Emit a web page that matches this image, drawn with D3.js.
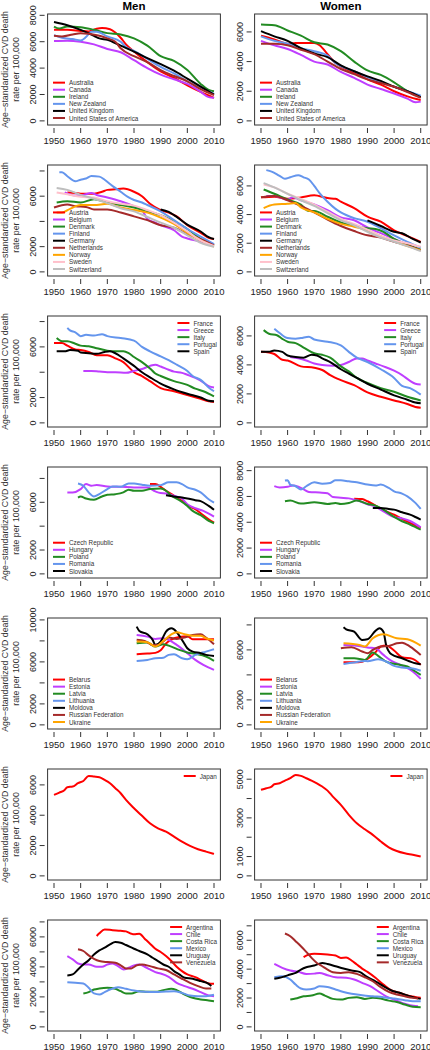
<!DOCTYPE html>
<html><head><meta charset="utf-8">
<script src="https://cdn.jsdelivr.net/npm/d3@7"></script>
<style>
html,body{margin:0;padding:0;background:#fff;}
svg text{font-family:"Liberation Sans",Arial,Helvetica,sans-serif;}
</style></head>
<body>
<script>
// ---------- DATA ----------
const columnTitles = ["Men", "Women"];
const yTitle = ["Age\u2212standardized CVD death", "rate per 100,000"];
const xTicks = [1950, 1960, 1970, 1980, 1990, 2000, 2010];

const countries1 = ["Australia", "Canada", "Ireland", "New Zealand", "United Kingdom", "United States of America"];
const colors1 = ["#FF0000", "#BF3EFF", "#228B22", "#6495ED", "#000000", "#A52A2A"];
const men1 = [
  [[1950,6900],[1955,6900],[1960,6820],[1963,6780],[1966,6980],[1968,7030],[1971,6950],[1973,6700],[1975,6300],[1977,5800],[1980,5250],[1985,4450],[1990,3750],[1995,3250],[2000,2700],[2005,2200],[2010,1750]],
  [[1950,6050],[1955,6080],[1960,6000],[1965,5800],[1970,5450],[1975,5200],[1980,4600],[1985,4000],[1990,3500],[1995,3150],[2000,2800],[2005,2200],[2008,1800],[2010,1750]],
  [[1950,7150],[1952,7000],[1955,7150],[1960,7100],[1965,6900],[1970,6650],[1975,6550],[1980,6250],[1985,5700],[1990,4900],[1995,4550],[2000,3850],[2005,2800],[2008,2350],[2010,2250]],
  [[1950,6500],[1953,6300],[1957,6200],[1960,6100],[1962,6350],[1964,6750],[1966,6750],[1970,6400],[1975,6000],[1977,5600],[1980,5300],[1985,4700],[1990,4100],[1995,3600],[2000,3000],[2005,2500],[2010,2050]],
  [[1950,7500],[1955,7250],[1960,6900],[1965,6450],[1967,6250],[1970,6150],[1975,5700],[1980,5250],[1985,4750],[1990,4300],[1995,3800],[2000,3200],[2005,2600],[2010,2000]],
  [[1950,6450],[1953,6400],[1957,6550],[1960,6650],[1963,6600],[1967,6450],[1970,6250],[1973,6000],[1975,5500],[1980,4900],[1985,4450],[1990,3850],[1995,3400],[2000,3000],[2005,2400],[2010,1950]]
];
const women1 = [
  [[1950,5750],[1955,5500],[1960,5200],[1963,5250],[1967,5250],[1970,5250],[1972,5100],[1975,4500],[1978,3900],[1980,3650],[1985,3250],[1990,2800],[1995,2450],[2000,2000],[2005,1650],[2010,1400]],
  [[1950,5400],[1955,5100],[1960,4850],[1965,4450],[1970,4000],[1975,3800],[1980,3300],[1985,2900],[1990,2450],[1995,2150],[2000,1850],[2005,1500],[2008,1250],[2010,1300]],
  [[1950,6500],[1955,6450],[1960,6100],[1965,5750],[1970,5300],[1975,5150],[1980,4700],[1985,4000],[1990,3400],[1995,3100],[2000,2600],[2005,2000],[2010,1600]],
  [[1950,5700],[1955,5400],[1960,5200],[1965,4900],[1970,4700],[1975,4400],[1978,3900],[1980,3700],[1985,3350],[1990,2950],[1995,2600],[2000,2300],[2005,2000],[2010,1700]],
  [[1950,6050],[1955,5700],[1960,5400],[1965,4900],[1970,4550],[1975,4300],[1980,3750],[1985,3350],[1990,3000],[1995,2700],[2000,2300],[2005,2000],[2010,1600]],
  [[1950,5200],[1955,5200],[1960,5100],[1965,4800],[1970,4500],[1975,4000],[1980,3500],[1985,3150],[1990,2800],[1995,2550],[2000,2300],[2005,1950],[2010,1550]]
];

const countries2 = ["Austria", "Belgium", "Denmark", "Finland", "Germany", "Netherlands", "Norway", "Sweden", "Switzerland"];
const colors2 = ["#FF0000", "#BF3EFF", "#228B22", "#6495ED", "#000000", "#A52A2A", "#FFA500", "#FFC0CB", "#BEBEBE"];
const men2 = [
  [[1955,6300],[1958,6250],[1960,6200],[1965,6200],[1968,6350],[1970,6500],[1973,6550],[1976,6600],[1980,6350],[1983,6000],[1986,5400],[1990,4900],[1993,4700],[1996,4400],[2000,3700],[2005,3100],[2008,2700],[2010,2600]],
  [[1954,6300],[1958,6050],[1961,6100],[1964,6250],[1966,6100],[1970,5900],[1975,5600],[1980,5200],[1983,4900],[1985,4200],[1988,3900],[1990,3700],[1995,3300],[1998,2800],[2000,2650],[2005,2400],[2010,2150]],
  [[1951,5500],[1955,5600],[1960,5500],[1965,5750],[1970,5500],[1975,5300],[1980,5100],[1985,4800],[1990,4500],[1995,4000],[2000,3400],[2005,2600],[2010,2100]],
  [[1952,7900],[1953,7900],[1955,7580],[1958,7180],[1960,7310],[1962,7400],[1964,7600],[1967,7550],[1969,7300],[1972,6800],[1975,6350],[1978,5900],[1980,5700],[1983,5500],[1985,5300],[1990,4800],[1995,4100],[2000,3400],[2005,2800],[2010,2200]],
  [[1990,4950],[1993,4750],[1995,4500],[2000,3750],[2005,3200],[2008,2750],[2010,2600]],
  [[1950,5100],[1955,5350],[1958,5200],[1962,5150],[1965,4950],[1970,4950],[1975,4700],[1980,4400],[1985,4100],[1990,3700],[1995,3500],[2000,3000],[2005,2600],[2010,2100]],
  [[1951,4700],[1953,4700],[1956,5000],[1960,5300],[1965,5300],[1970,5400],[1975,5100],[1980,4900],[1985,4700],[1990,4300],[1995,3800],[2000,3100],[2005,2500],[2010,2000]],
  [[1951,6300],[1955,6150],[1960,5950],[1965,5900],[1970,5600],[1975,5400],[1980,5250],[1985,4900],[1990,4500],[1995,3900],[2000,3200],[2005,2500],[2010,2050]],
  [[1951,6650],[1955,6500],[1960,6100],[1965,5800],[1970,5450],[1975,5050],[1980,4800],[1985,4350],[1990,3900],[1995,3500],[2000,2900],[2005,2300],[2010,2000]]
];
const women2 = [
  [[1950,5200],[1955,5250],[1960,5100],[1965,5200],[1970,5350],[1975,5150],[1978,5100],[1980,4900],[1985,4450],[1990,3850],[1995,3500],[2000,2900],[2005,2500],[2010,2100]],
  [[1952,5300],[1955,5300],[1960,5050],[1962,5200],[1965,5000],[1970,4700],[1975,4300],[1980,3800],[1985,3600],[1990,3100],[1995,2700],[2000,2300],[2005,1900],[2010,1500]],
  [[1951,5750],[1955,5450],[1960,5050],[1965,4700],[1968,4250],[1970,4250],[1975,3850],[1980,3450],[1985,3250],[1990,3050],[1993,3000],[1996,2800],[2000,2300],[2005,1900],[2010,1550]],
  [[1952,7100],[1954,7000],[1957,6700],[1959,6500],[1961,6600],[1964,6750],[1966,6600],[1968,6450],[1970,6000],[1972,5500],[1975,4900],[1978,4400],[1980,4150],[1985,3750],[1990,3500],[1995,3050],[2000,2550],[2005,2100],[2010,1700]],
  [[1990,3600],[1995,3200],[2000,2800],[2003,2700],[2007,2300],[2010,2050]],
  [[1950,5200],[1955,5300],[1960,5000],[1965,4600],[1970,4150],[1975,3650],[1980,3200],[1985,2850],[1990,2550],[1995,2400],[2000,2100],[2005,1850],[2010,1500]],
  [[1951,4450],[1955,4700],[1960,4750],[1963,4800],[1965,4500],[1970,4150],[1975,3700],[1980,3350],[1985,3150],[1990,2900],[1995,2500],[2000,2150],[2005,1800],[2010,1500]],
  [[1951,6100],[1955,5900],[1960,5450],[1965,5100],[1970,4700],[1975,4200],[1980,3700],[1985,3350],[1990,2950],[1995,2500],[2000,2200],[2005,2000],[2010,1750]],
  [[1951,6200],[1955,5900],[1960,5450],[1965,5000],[1970,4600],[1975,4100],[1980,3600],[1985,3250],[1990,2800],[1995,2400],[2000,2100],[2005,1800],[2010,1450]]
];

const countries3 = ["France", "Greece", "Italy", "Portugal", "Spain"];
const colors3 = ["#FF0000", "#BF3EFF", "#228B22", "#6495ED", "#000000"];
const men3 = [
  [[1950,6300],[1953,6300],[1955,6100],[1958,5800],[1960,5750],[1963,5600],[1966,5350],[1970,5350],[1973,5100],[1976,4800],[1980,4000],[1983,3700],[1986,3300],[1990,2750],[1995,2500],[2000,2200],[2005,1900],[2008,1700],[2010,1650]],
  [[1961,4100],[1964,4100],[1967,4050],[1970,4000],[1973,4000],[1977,3950],[1980,4100],[1983,4250],[1986,4500],[1988,4600],[1990,4450],[1993,4200],[1995,4050],[1998,3950],[2000,3800],[2003,3550],[2006,3200],[2008,2900],[2010,2800]],
  [[1951,6700],[1953,6450],[1955,6450],[1958,6250],[1960,6100],[1963,6050],[1966,5900],[1970,5700],[1973,5650],[1976,5650],[1978,5500],[1980,5200],[1983,4800],[1986,4300],[1988,3900],[1990,3700],[1995,3300],[2000,3000],[2003,2700],[2006,2500],[2010,2100]],
  [[1955,7500],[1956,7300],[1958,7150],[1960,6850],[1962,6950],[1965,6900],[1968,7000],[1970,6850],[1975,6700],[1980,6500],[1983,6000],[1986,5650],[1990,5250],[1993,4950],[1996,4600],[2000,4100],[2002,3700],[2005,3400],[2008,2800],[2010,2500]],
  [[1951,5650],[1954,5650],[1956,5750],[1959,5700],[1960,5550],[1963,5500],[1966,5450],[1969,5600],[1971,5650],[1973,5500],[1976,5100],[1980,4500],[1983,4000],[1986,3600],[1990,3100],[1995,2650],[2000,2300],[2005,2000],[2008,1750],[2010,1700]]
];
const women3 = [
  [[1950,4900],[1953,4850],[1955,4750],[1958,4350],[1960,4300],[1965,3900],[1970,3800],[1973,3650],[1976,3300],[1980,2950],[1985,2600],[1990,2100],[1995,1800],[2000,1550],[2005,1300],[2008,1100],[2010,1050]],
  [[1961,4550],[1964,4450],[1967,4300],[1970,4100],[1973,4000],[1977,3950],[1980,4000],[1983,4200],[1986,4450],[1988,4450],[1990,4300],[1993,4100],[1996,3900],[2000,3600],[2003,3300],[2006,2900],[2008,2700],[2010,2650]],
  [[1951,6400],[1953,6150],[1956,6050],[1958,5800],[1960,5600],[1963,5500],[1966,5200],[1970,4800],[1973,4700],[1976,4500],[1980,3900],[1983,3550],[1986,3100],[1990,2750],[1995,2400],[2000,2150],[2005,1800],[2010,1550]],
  [[1955,6500],[1957,6200],[1960,5850],[1963,5800],[1965,5850],[1968,5950],[1970,5750],[1975,5600],[1980,5350],[1983,4900],[1986,4500],[1990,4200],[1995,3700],[2000,3100],[2003,2550],[2006,2400],[2008,2200],[2010,1950]],
  [[1950,4900],[1953,4900],[1955,5000],[1958,4900],[1960,4650],[1963,4550],[1966,4500],[1969,4700],[1971,4650],[1973,4450],[1976,4200],[1980,3700],[1983,3400],[1986,3100],[1990,2700],[1995,2300],[2000,1900],[2005,1600],[2008,1400],[2010,1350]]
];

const countries4 = ["Czech Republic", "Hungary", "Poland", "Romania", "Slovakia"];
const colors4 = ["#FF0000", "#BF3EFF", "#228B22", "#6495ED", "#000000"];
const men4 = [
  [[1986,7530],[1988,7530],[1990,7300],[1992,6970],[1995,6550],[1998,6120],[2000,5760],[2003,5420],[2005,5080],[2008,4580],[2010,4300]],
  [[1955,6830],[1957,6830],[1960,7100],[1962,7530],[1964,7390],[1966,7450],[1970,7330],[1975,7300],[1980,7250],[1985,7250],[1988,6910],[1990,6770],[1992,6740],[1995,6550],[1998,6320],[2000,5840],[2003,5510],[2006,5280],[2010,4800]],
  [[1959,6400],[1960,6490],[1962,6320],[1965,6210],[1968,6490],[1970,6630],[1973,6680],[1976,6830],[1978,7050],[1980,6970],[1983,6970],[1986,7110],[1990,7160],[1992,6970],[1994,6550],[1997,6180],[2000,5700],[2002,5280],[2005,4920],[2008,4440],[2010,4240]],
  [[1959,7580],[1961,7390],[1963,6830],[1965,6490],[1967,6690],[1970,7110],[1972,7330],[1975,7300],[1978,7580],[1980,7580],[1983,7470],[1986,7390],[1990,7440],[1993,7670],[1996,7670],[1998,7530],[2000,7250],[2003,7050],[2005,6830],[2008,6260],[2010,5980]],
  [[1992,6600],[1995,6490],[1998,6400],[2000,6320],[2003,6180],[2005,6100],[2008,5700],[2010,5370]]
];
const women4 = [
  [[1985,5830],[1988,5800],[1990,5630],[1993,5290],[1996,4930],[2000,4590],[2003,4260],[2006,3950],[2010,3560]],
  [[1955,6800],[1957,6700],[1960,6750],[1962,6850],[1964,6750],[1966,6550],[1968,6350],[1972,6300],[1975,6250],[1977,5950],[1980,5900],[1983,5850],[1986,5700],[1990,5400],[1993,5200],[1996,4850],[2000,4400],[2003,4300],[2006,4100],[2010,3600]],
  [[1959,5630],[1961,5680],[1965,5450],[1970,5550],[1975,5420],[1978,5500],[1980,5420],[1983,5500],[1986,5680],[1990,5420],[1993,5290],[1996,4980],[2000,4410],[2003,4080],[2006,3820],[2010,3430]],
  [[1959,7230],[1960,7250],[1961,6920],[1963,6790],[1965,6530],[1967,6790],[1970,7100],[1973,6990],[1976,7050],[1978,7250],[1980,7250],[1983,7170],[1986,7100],[1990,6920],[1993,6840],[1995,6920],[1998,6660],[2000,6400],[2003,6220],[2005,6010],[2008,5500],[2010,5030]],
  [[1992,5110],[1995,5110],[1998,5030],[2000,4980],[2003,4770],[2006,4590],[2008,4410],[2010,4210]]
];

const countries5 = ["Belarus", "Estonia", "Latvia", "Lithuania", "Moldova", "Russian Federation", "Ukraine"];
const colors5 = ["#FF0000", "#BF3EFF", "#228B22", "#6495ED", "#000000", "#A52A2A", "#FFA500"];
const men5 = [
  [[1981,6730],[1985,6790],[1988,6860],[1990,7110],[1992,7750],[1994,8130],[1997,8380],[2000,8440],[2002,8160],[2006,8160],[2010,8160]],
  [[1981,8570],[1985,8410],[1988,8190],[1991,8250],[1993,8100],[1996,7620],[2000,6830],[2003,6190],[2006,5710],[2010,5240]],
  [[1981,7780],[1985,7840],[1988,7460],[1991,7680],[1994,7460],[1997,7140],[2000,6890],[2003,6760],[2007,6510],[2010,6100]],
  [[1981,6090],[1985,6190],[1988,6350],[1991,6400],[1993,6670],[1995,6730],[1998,6350],[2000,6250],[2003,6670],[2007,6980],[2010,7210]],
  [[1981,9360],[1982,8950],[1985,8630],[1987,8100],[1988,7620],[1990,7940],[1992,8890],[1994,9210],[1995,9100],[1998,8100],[2000,7300],[2002,6980],[2005,6830],[2007,6670],[2010,6570]],
  [[1981,8100],[1984,8000],[1987,7620],[1989,7620],[1991,7940],[1993,8320],[1996,8190],[1999,8320],[2002,8570],[2005,8630],[2007,8320],[2010,7680]],
  [[1981,7940],[1985,7880],[1988,7460],[1991,8000],[1994,8630],[1996,8830],[1999,8630],[2002,8480],[2005,8480],[2007,8250],[2010,8030]]
];
const women5 = [
  [[1981,5010],[1985,5010],[1988,5060],[1990,5280],[1993,5810],[1995,6270],[1997,6350],[2000,5950],[2003,5410],[2007,5280],[2010,4800]],
  [[1981,6400],[1985,6350],[1988,6270],[1990,6190],[1993,6130],[1996,5600],[1999,5120],[2003,4750],[2007,4270],[2010,3680]],
  [[1981,5330],[1985,5330],[1989,5200],[1992,5790],[1994,5520],[1997,5070],[2001,4850],[2005,4670],[2008,4270],[2010,4000]],
  [[1981,4880],[1985,4990],[1989,5120],[1990,5100],[1994,5250],[1997,5070],[2000,4720],[2003,4590],[2007,4510],[2010,4330]],
  [[1981,7810],[1982,7650],[1985,7460],[1988,6800],[1990,6850],[1993,7520],[1994.5,7730],[1996,7460],[1997,6400],[1999,5650],[2003,5330],[2008,4930],[2010,4850]],
  [[1980,6130],[1984,6210],[1988,5870],[1990,5730],[1992,6000],[1995,6270],[1998,6320],[2001,6530],[2003,6580],[2006,6270],[2010,5600]],
  [[1981,6530],[1987,6400],[1989,6270],[1992,6930],[1996,7250],[2001,6930],[2005,6850],[2010,6340]]
];

const countries6 = ["Japan"];
const colors6 = ["#FF0000"];
const men6 = [
  [[1950,5340],[1952,5490],[1954,5670],[1955,5850],[1957,5890],[1959,6110],[1961,6260],[1963,6590],[1965,6550],[1967,6510],[1969,6330],[1971,6110],[1973,5780],[1975,5450],[1977,5010],[1980,4460],[1983,3960],[1986,3470],[1989,3140],[1992,2920],[1995,2590],[1998,2260],[2001,1980],[2004,1760],[2007,1600],[2010,1450]]
];
const women6 = [
  [[1950,4450],[1952,4530],[1954,4620],[1955,4740],[1957,4790],[1959,4930],[1961,5050],[1963,5220],[1965,5170],[1967,5050],[1969,4930],[1971,4790],[1973,4620],[1975,4410],[1977,4100],[1980,3670],[1983,3160],[1986,2720],[1989,2410],[1992,2120],[1995,1780],[1998,1480],[2001,1290],[2004,1170],[2007,1090],[2010,1000]]
];

const countries7 = ["Argentina", "Chile", "Costa Rica", "Mexico", "Uruguay", "Venezuela"];
const colors7 = ["#FF0000", "#BF3EFF", "#228B22", "#6495ED", "#000000", "#A52A2A"];
const men7 = [
  [[1966,6060],[1967,6240],[1969,6500],[1972,6450],[1975,6410],[1977,6370],[1979,6210],[1980,6170],[1982,6210],[1984,5880],[1986,5550],[1988,5210],[1990,4990],[1992,4720],[1994,4390],[1996,4010],[1998,3720],[2000,3500],[2003,3320],[2006,3050],[2008,2900],[2010,2870]],
  [[1955,4720],[1957,4500],[1959,4230],[1961,4160],[1963,4160],[1966,4010],[1968,4010],[1970,4160],[1972,4230],[1974,4050],[1976,3830],[1978,3940],[1980,4100],[1982,4160],[1984,4010],[1986,3830],[1988,3650],[1990,3560],[1993,3340],[1996,2940],[1999,2720],[2002,2540],[2005,2320],[2008,2090],[2010,2050]],
  [[1961,2230],[1963,2320],[1965,2490],[1967,2560],[1970,2610],[1973,2540],[1975,2380],[1977,2230],[1979,2230],[1982,2380],[1985,2340],[1988,2340],[1991,2450],[1994,2540],[1996,2450],[1999,2160],[2002,1940],[2005,1830],[2008,1760],[2010,1710]],
  [[1955,2980],[1958,2940],[1961,2900],[1963,2610],[1965,2230],[1967,2160],[1969,2320],[1971,2490],[1974,2650],[1977,2540],[1980,2430],[1984,2340],[1988,2320],[1992,2360],[1995,2380],[1998,2270],[2001,2090],[2004,2050],[2007,2050],[2010,2140]],
  [[1955,3430],[1957,3500],[1959,3830],[1961,4160],[1963,4450],[1965,4830],[1967,5100],[1969,5280],[1971,5500],[1973,5660],[1975,5610],[1977,5460],[1980,5210],[1982,5060],[1985,4830],[1987,4610],[1989,4390],[1991,4160],[1993,4010],[1995,3720],[1997,3500],[1999,3270],[2002,3210],[2005,3050],[2008,2870],[2009,2720]],
  [[1959,5170],[1961,5060],[1963,4770],[1965,4540],[1967,4390],[1970,4320],[1973,4280],[1975,4100],[1977,3900],[1979,3900],[1981,4100],[1983,4160],[1986,4050],[1989,3900],[1992,3790],[1995,3500],[1998,3210],[2001,2940],[2004,2720],[2007,2560],[2009,2560]]
];
const women7 = [
  [[1966,4830],[1968,5010],[1970,5060],[1975,5010],[1978,4940],[1980,4780],[1982,4800],[1984,4600],[1986,4320],[1988,4040],[1990,3810],[1993,3400],[1996,2930],[1999,2520],[2002,2360],[2005,2170],[2008,2080],[2010,2010]],
  [[1955,4360],[1958,4090],[1961,3900],[1964,3810],[1967,3670],[1970,3690],[1972,3740],[1975,3580],[1978,3440],[1982,3400],[1985,3280],[1988,3050],[1991,2820],[1994,2470],[1997,2120],[2000,1890],[2003,1660],[2006,1500],[2009,1430]],
  [[1961,1890],[1963,1960],[1966,2120],[1969,2170],[1972,2310],[1974,2170],[1977,1940],[1980,1890],[1983,2010],[1986,2060],[1989,1940],[1992,2010],[1995,1960],[1998,1820],[2001,1730],[2004,1550],[2007,1390],[2010,1360]],
  [[1955,3440],[1958,3510],[1961,3280],[1963,2930],[1965,2660],[1967,2590],[1970,2660],[1972,2820],[1975,2770],[1978,2590],[1981,2420],[1984,2290],[1988,2190],[1992,2120],[1996,2060],[2000,1960],[2004,1850],[2007,1780],[2010,1780]],
  [[1955,3330],[1957,3400],[1959,3510],[1961,3630],[1963,3740],[1965,3970],[1967,4130],[1970,4250],[1973,4430],[1975,4360],[1978,4200],[1981,4040],[1984,3900],[1987,3810],[1990,3440],[1993,3160],[1996,2820],[1999,2520],[2002,2360],[2005,2170],[2008,2010],[2010,1940]],
  [[1959,6470],[1961,6280],[1963,5940],[1965,5590],[1967,5200],[1969,4780],[1971,4430],[1973,4200],[1975,3970],[1977,3790],[1980,3740],[1983,3790],[1986,3670],[1989,3440],[1992,3160],[1995,2750],[1998,2420],[2001,2240],[2004,2120],[2007,2010],[2009,1960]]
];

// y-axis tick values and the subset that carries labels, per panel [men, women]
const yTicks = [
  [[0,2000,4000,6000,8000], [0,2000,4000,6000]],
  [[0,2000,4000,6000,8000], [0,2000,4000,6000]],
  [[0,2000,4000,6000,8000], [0,2000,4000,6000]],
  [[0,2000,4000,6000,8000], [0,2000,4000,6000,8000]],
  [[0,2000,4000,6000,8000,10000], [0,2000,4000,6000,8000]],
  [[0,2000,4000,6000], [0,1000,2000,3000,4000,5000]],
  [[0,1000,2000,3000,4000,5000,6000,7000], [0,1000,2000,3000,4000,5000,6000,7000]]
];
const yTickLabels = [
  [[0,2000,4000,6000,8000], [0,2000,4000,6000]],
  [[0,2000,6000], [0,2000,4000,6000]],
  [[0,2000,6000], [0,2000,4000,6000]],
  [[0,2000,6000], [0,2000,4000,6000,8000]],
  [[0,2000,6000,10000], [0,2000,6000]],
  [[0,2000,4000,6000], [0,1000,3000,5000]],
  [[0,2000,4000,6000], [0,2000,4000,6000]]
];
// upper y limit per panel [men, women]
const yMax = [[7788,6932],[8146,7172],[8115,7090],[8614,7963],[9790,8224],[6777,5315],[6853,7120]];

// ---------- LAYOUT ----------
const W = 430, H = 1050;
const colBox = [[47.6, 220.4], [254.6, 427.1]];
const rowTop0 = 14, rowPitch = 151, boxH = 111;
const legendPos = ["bl","bl","tr","bl","bl","tr","tr"];
const rows = [
  {names: countries1, colors: colors1, data: [men1, women1]},
  {names: countries2, colors: colors2, data: [men2, women2]},
  {names: countries3, colors: colors3, data: [men3, women3]},
  {names: countries4, colors: colors4, data: [men4, women4]},
  {names: countries5, colors: colors5, data: [men5, women5]},
  {names: countries6, colors: colors6, data: [men6, women6]},
  {names: countries7, colors: colors7, data: [men7, women7]}
];

const svg = d3.select("body").append("svg").attr("width", W).attr("height", H);

// column titles
columnTitles.forEach((t, c) => {
  svg.append("text").attr("x", (colBox[c][0] + colBox[c][1]) / 2).attr("y", 9.5)
    .attr("text-anchor", "middle").attr("font-weight", "bold").attr("font-size", 11.5)
    .attr("fill", "#000").text(t);
});

rows.forEach((row, r) => {
  const top = rowTop0 + r * rowPitch, bottom = top + boxH;
  const cy = (top + bottom) / 2;
  yTitle.forEach((line, k) => {
    svg.append("text").attr("transform", `translate(${5 + k * 11},${cy}) rotate(-90)`)
      .attr("text-anchor", "middle").attr("dominant-baseline", "central")
      .attr("font-size", 8.8).attr("fill", "#333").text(line);
  });
  [0, 1].forEach(c => {
    const [x0, x1] = colBox[c];
    const x = d3.scaleLinear().domain([1947.6, 2012.4]).range([x0, x1]);
    const M = yMax[r][c];
    const y = d3.scaleLinear().domain([-0.04 * M, 1.04 * M]).range([bottom, top]);
    const g = svg.append("g");
    g.append("rect").attr("x", x0).attr("y", top).attr("width", x1 - x0).attr("height", boxH)
      .attr("fill", "none").attr("stroke", "#333").attr("stroke-width", 1);
    const xa = g.append("g");
    xTicks.forEach(t => {
      xa.append("line").attr("x1", x(t)).attr("x2", x(t)).attr("y1", bottom + 3).attr("y2", bottom + 8)
        .attr("stroke", "#333").attr("stroke-width", 1);
      xa.append("text").attr("x", x(t)).attr("y", bottom + 18.5).attr("text-anchor", "middle")
        .attr("font-size", 9.5).attr("fill", "#222").text(t);
    });
    const ya = g.append("g");
    yTicks[r][c].forEach(t => {
      ya.append("line").attr("x1", x0 - 8).attr("x2", x0 - 3).attr("y1", y(t)).attr("y2", y(t))
        .attr("stroke", "#333").attr("stroke-width", 1);
    });
    yTickLabels[r][c].forEach(t => {
      ya.append("text").attr("transform", `translate(${x0 - 14.5},${y(t)}) rotate(-90)`)
        .attr("text-anchor", "middle").attr("dominant-baseline", "central")
        .attr("font-size", 9).attr("fill", "#222").text(t);
    });
    const line = d3.line().x(d => x(d[0])).y(d => y(d[1])).curve(d3.curveMonotoneX);
    row.data[c].forEach((s, i) => {
      g.append("path").attr("d", line(s)).attr("fill", "none")
        .attr("stroke", row.colors[i]).attr("stroke-width", 2).attr("stroke-linejoin", "round");
    });
    const n = row.names.length, step = 7.07;
    const lg = g.append("g");
    const texts = row.names.map(nm => lg.append("text").attr("font-size", 6.3).attr("fill", "#333")
      .attr("dominant-baseline", "central").text(nm));
    let textX, y0;
    if (legendPos[r] === "bl") {
      textX = x0 + 21.4;
      y0 = bottom - 7 - (n - 1) * step;
    } else {
      const maxW = d3.max(texts, t => t.node().getComputedTextLength());
      textX = x1 - 3.5 - maxW;
      y0 = top + 7;
    }
    texts.forEach((t, i) => {
      const yy = y0 + i * step;
      t.attr("x", textX).attr("y", yy);
      lg.append("line").attr("x1", textX - 16).attr("x2", textX - 4).attr("y1", yy).attr("y2", yy)
        .attr("stroke", row.colors[i]).attr("stroke-width", 2);
    });
  });
});
</script>
</body></html>
